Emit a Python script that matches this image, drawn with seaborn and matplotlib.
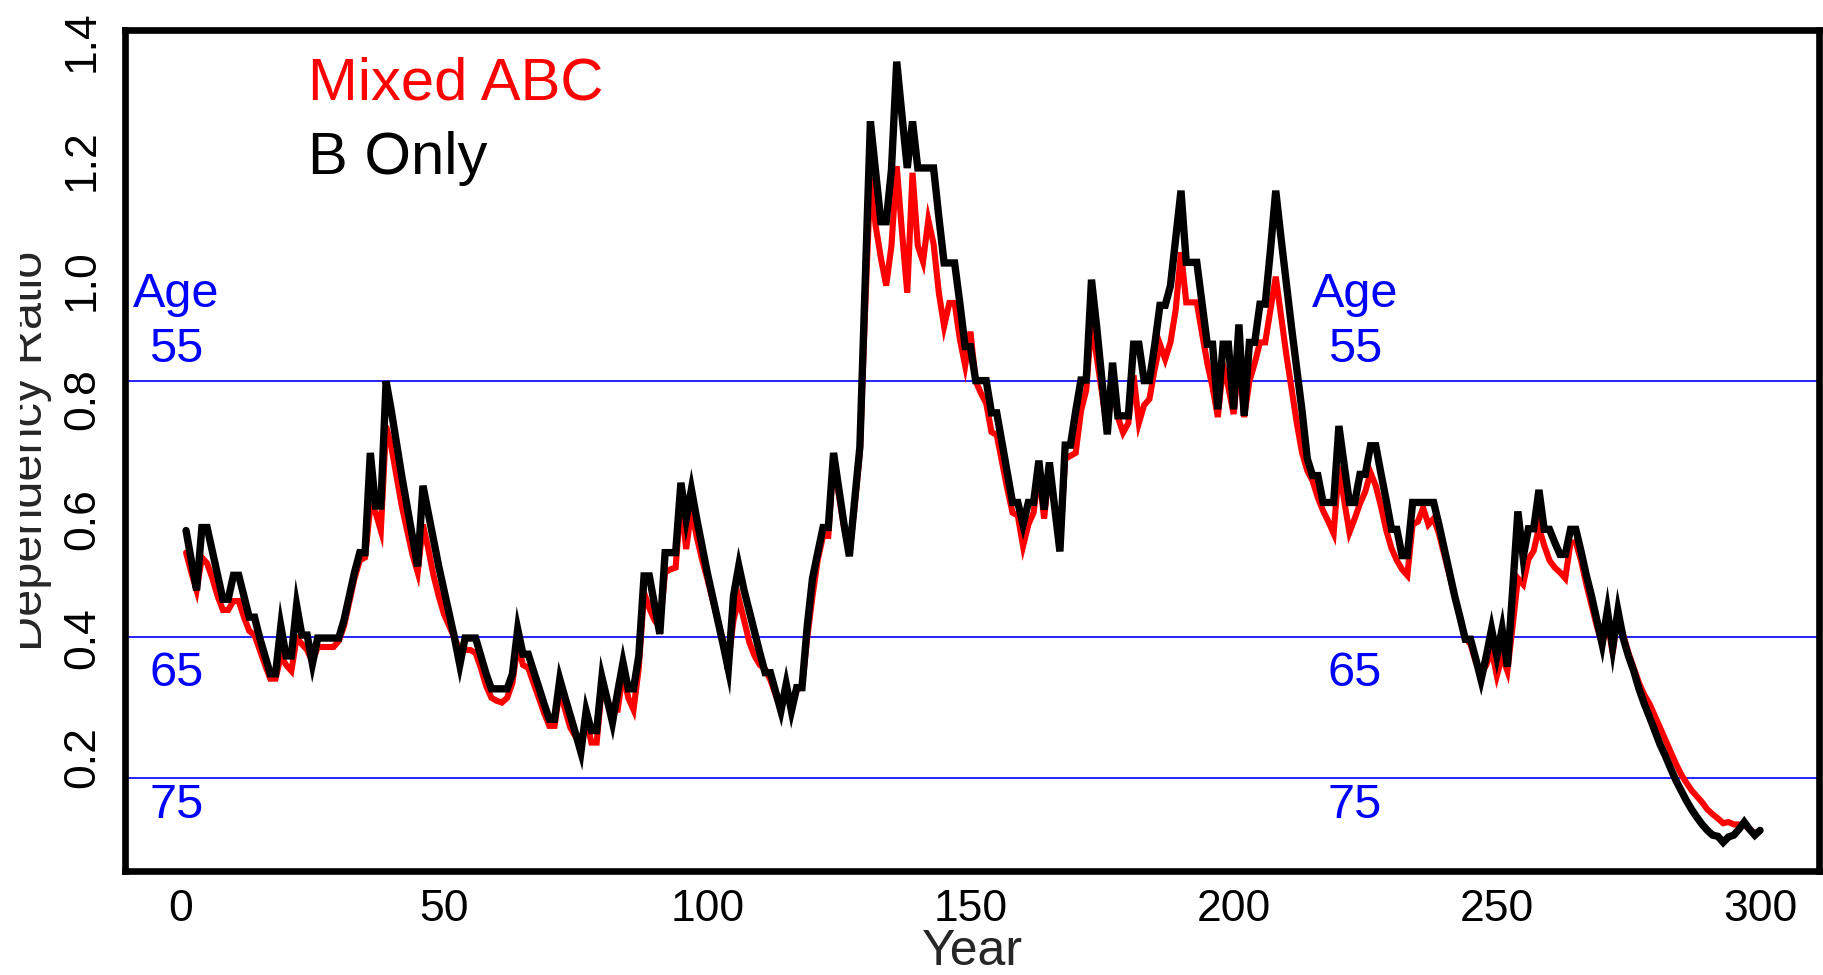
import matplotlib
matplotlib.use('Agg')
import matplotlib.pyplot as plt
from matplotlib.transforms import Bbox
import seaborn as sns

# ---- data (one value per year, 1..300) ----
years = list(range(1, 301))

b_only = [
    0.58, 0.53, 0.48, 0.585, 0.585, 0.545, 0.505, 0.465, 0.465, 0.505,
    0.505, 0.47, 0.435, 0.435, 0.40, 0.37, 0.34, 0.34, 0.42, 0.37,
    0.37, 0.455, 0.405, 0.405, 0.357, 0.40, 0.40, 0.40, 0.40, 0.40,
    0.43, 0.47, 0.51, 0.543, 0.543, 0.71, 0.621, 0.621, 0.83, 0.78,
    0.725, 0.67, 0.62, 0.57, 0.52, 0.655, 0.61, 0.565, 0.52, 0.48,
    0.44, 0.40, 0.355, 0.40, 0.40, 0.40, 0.37, 0.34, 0.315, 0.315,
    0.315, 0.315, 0.34, 0.415, 0.373, 0.373, 0.345, 0.318, 0.29, 0.264,
    0.264, 0.331, 0.30, 0.27, 0.24, 0.209, 0.278, 0.245, 0.245, 0.334,
    0.297, 0.259, 0.31, 0.359, 0.315, 0.315, 0.37, 0.504, 0.504, 0.455,
    0.407, 0.543, 0.543, 0.543, 0.66, 0.599, 0.649, 0.60, 0.555, 0.51,
    0.47, 0.43, 0.39, 0.348, 0.471, 0.521, 0.48, 0.445, 0.41, 0.375,
    0.342, 0.342, 0.31, 0.278, 0.323, 0.278, 0.317, 0.317, 0.42, 0.50,
    0.543, 0.585, 0.585, 0.71, 0.65, 0.59, 0.537, 0.63, 0.72, 0.99,
    1.265, 1.18, 1.097, 1.097, 1.184, 1.365, 1.275, 1.187, 1.265, 1.187,
    1.187, 1.187, 1.187, 1.105, 1.028, 1.028, 1.028, 0.96, 0.888, 0.888,
    0.831, 0.831, 0.831, 0.777, 0.777, 0.727, 0.677, 0.627, 0.627, 0.59,
    0.627, 0.627, 0.697, 0.615, 0.694, 0.62, 0.545, 0.723, 0.723, 0.78,
    0.832, 0.832, 1.0, 0.92, 0.83, 0.741, 0.861, 0.772, 0.772, 0.772,
    0.892, 0.892, 0.831, 0.831, 0.89, 0.957, 0.957, 0.99, 1.07, 1.149,
    1.029, 1.029, 1.029, 0.96, 0.892, 0.892, 0.783, 0.892, 0.892, 0.783,
    0.925, 0.772, 0.895, 0.895, 0.959, 0.959, 1.05, 1.149, 1.07, 0.995,
    0.92, 0.85, 0.78, 0.70, 0.672, 0.672, 0.627, 0.627, 0.627, 0.755,
    0.69, 0.627, 0.627, 0.674, 0.674, 0.722, 0.722, 0.675, 0.63, 0.582,
    0.582, 0.538, 0.538, 0.627, 0.627, 0.627, 0.627, 0.627, 0.59, 0.55,
    0.51, 0.47, 0.435, 0.398, 0.398, 0.365, 0.33, 0.37, 0.415, 0.37,
    0.415, 0.352, 0.48, 0.612, 0.535, 0.583, 0.583, 0.648, 0.582, 0.582,
    0.56, 0.54, 0.54, 0.582, 0.582, 0.545, 0.505, 0.47, 0.43, 0.39,
    0.446, 0.384, 0.446, 0.40, 0.37, 0.345, 0.315, 0.29, 0.268, 0.245,
    0.222, 0.203, 0.182, 0.162, 0.145, 0.128, 0.113, 0.10, 0.088, 0.078,
    0.07, 0.068, 0.058, 0.067, 0.07, 0.08, 0.092, 0.08, 0.07, 0.078,
]

mixed_abc = [
    0.543, 0.51, 0.48, 0.535, 0.525, 0.50, 0.47, 0.447, 0.447, 0.462,
    0.462, 0.435, 0.412, 0.405, 0.38, 0.355, 0.332, 0.332, 0.37, 0.355,
    0.345, 0.40, 0.39, 0.38, 0.36, 0.385, 0.385, 0.385, 0.385, 0.395,
    0.42, 0.46, 0.50, 0.53, 0.535, 0.62, 0.61, 0.58, 0.755, 0.72,
    0.67, 0.62, 0.58, 0.54, 0.51, 0.59, 0.55, 0.505, 0.47, 0.44,
    0.42, 0.40, 0.38, 0.38, 0.38, 0.375, 0.35, 0.32, 0.30, 0.295,
    0.292, 0.30, 0.325, 0.39, 0.355, 0.35, 0.325, 0.30, 0.275, 0.253,
    0.253, 0.314, 0.28, 0.25, 0.235, 0.22, 0.265, 0.225, 0.225, 0.319,
    0.295, 0.28, 0.28, 0.342, 0.30, 0.28, 0.35, 0.476, 0.45, 0.43,
    0.418, 0.51, 0.515, 0.518, 0.632, 0.549, 0.615, 0.57, 0.532, 0.50,
    0.465, 0.43, 0.395, 0.36, 0.43, 0.466, 0.43, 0.393, 0.37, 0.355,
    0.348, 0.33, 0.305, 0.281, 0.32, 0.285, 0.313, 0.318, 0.40, 0.47,
    0.531, 0.571, 0.571, 0.70, 0.64, 0.585, 0.54, 0.62, 0.71, 0.95,
    1.17, 1.09, 1.036, 0.99, 1.057, 1.19, 1.08, 0.978, 1.179, 1.057,
    1.03, 1.10, 1.06, 0.978, 0.922, 0.961, 0.961, 0.90, 0.856, 0.913,
    0.83, 0.81, 0.793, 0.745, 0.74, 0.695, 0.65, 0.61, 0.605, 0.554,
    0.59, 0.61, 0.68, 0.60, 0.685, 0.62, 0.554, 0.70, 0.705, 0.71,
    0.78, 0.815, 0.93, 0.87, 0.81, 0.745, 0.84, 0.77, 0.744, 0.76,
    0.84, 0.76, 0.79, 0.80, 0.85, 0.892, 0.867, 0.895, 0.95, 1.046,
    0.962, 0.962, 0.962, 0.91, 0.86, 0.82, 0.77, 0.856, 0.82, 0.775,
    0.867, 0.77, 0.83, 0.86, 0.895, 0.895, 0.95, 1.005, 0.94, 0.875,
    0.817, 0.76, 0.71, 0.68, 0.663, 0.635, 0.613, 0.595, 0.575, 0.688,
    0.63, 0.577, 0.60, 0.625, 0.645, 0.677, 0.655, 0.62, 0.58, 0.55,
    0.53, 0.515, 0.505, 0.59, 0.595, 0.618, 0.59, 0.60, 0.575, 0.54,
    0.505, 0.47, 0.435, 0.40, 0.39, 0.36, 0.34, 0.355, 0.38, 0.337,
    0.37, 0.345, 0.42, 0.50, 0.49, 0.532, 0.546, 0.585, 0.555, 0.53,
    0.518, 0.51, 0.50, 0.56, 0.56, 0.53, 0.49, 0.455, 0.42, 0.39,
    0.43, 0.375, 0.44, 0.405, 0.375, 0.35, 0.325, 0.305, 0.29, 0.27,
    0.25, 0.23, 0.21, 0.19, 0.172, 0.158, 0.145, 0.135, 0.125, 0.113,
    0.105, 0.098, 0.09, 0.092, 0.088, 0.088, 0.087, 0.08, 0.073, 0.077,
]

# retirement-age reference lines and their labels
age_levels = [0.83, 0.401, 0.165]
age_labels = ['55', '65', '75']
age_label_y = [0.863, 0.319, 0.099]
age_label_x = [-0.8, 223]

x_ticks = [0, 50, 100, 150, 200, 250, 300]
y_ticks = [0.2, 0.4, 0.6, 0.8, 1.0, 1.2, 1.4]

sns.set_style('white')
plt.rcParams['font.family'] = ['Liberation Sans', 'DejaVu Sans']

W, H = 1823, 975
fig = plt.figure(figsize=(W / 100, H / 100), dpi=100)
ax = fig.add_axes([125 / W, 1 - 871 / H, (1819 - 125) / W, (871 - 30) / H])

# blue age lines under the data
for lev in age_levels:
    ax.axhline(lev, color='blue', lw=1.2, zorder=1)

sns.lineplot(x=years, y=mixed_abc, color='red', lw=4.4, ax=ax,
             solid_joinstyle='miter', zorder=2)
sns.lineplot(x=years, y=b_only, color='black', lw=5.3, ax=ax,
             solid_joinstyle='miter', zorder=3)

ax.set_xlim(-10.6, 311.2)
ax.set_ylim(0.01, 1.418)
ax.set_xlabel('')
ax.set_ylabel('')

ax.set_xticks(x_ticks)
ax.set_xticklabels([str(t) for t in x_ticks])
ax.set_yticks(y_ticks)
ax.set_yticklabels([f'{t:.1f}' for t in y_ticks], rotation=90, va='center')

ax.tick_params(axis='both', direction='out', length=11, width=4.8,
               color='black', labelsize=32, labelcolor='black')
ax.tick_params(axis='x', pad=2)
ax.tick_params(axis='y', pad=5)

for side in ['left', 'right', 'top', 'bottom']:
    ax.spines[side].set_visible(True)
    ax.spines[side].set_color('black')
    ax.spines[side].set_linewidth(4.8)

# blue age annotations, both sides
for xa in age_label_x:
    ax.text(xa, 0.955, 'Age', color='blue', fontsize=35, ha='center', va='baseline')
    for lab, ya in zip(age_labels, age_label_y):
        ax.text(xa, ya, lab, color='blue', fontsize=35, ha='center', va='baseline')

# legend as plain coloured text
ax.text(24.2, 1.302, 'Mixed ABC', color='red', fontsize=43, ha='left', va='baseline')
ax.text(24.2, 1.1766, 'B Only', color='black', fontsize=43, ha='left', va='baseline')

fig.text(972 / W, 1 - 965 / H, 'Year', fontsize=36, ha='center', va='baseline')

# y label sits partly off the left edge in the original (cropped)
ylab = fig.text(42 / W, 1 - 450.5 / H, 'Dependency Ratio', fontsize=35,
                rotation=90, rotation_mode='anchor', ha='center', va='baseline')
ylab.set_clip_box(Bbox.from_extents(20, 0, W, H))
ylab.set_clip_on(True)

fig.savefig('out.png', dpi=100)
